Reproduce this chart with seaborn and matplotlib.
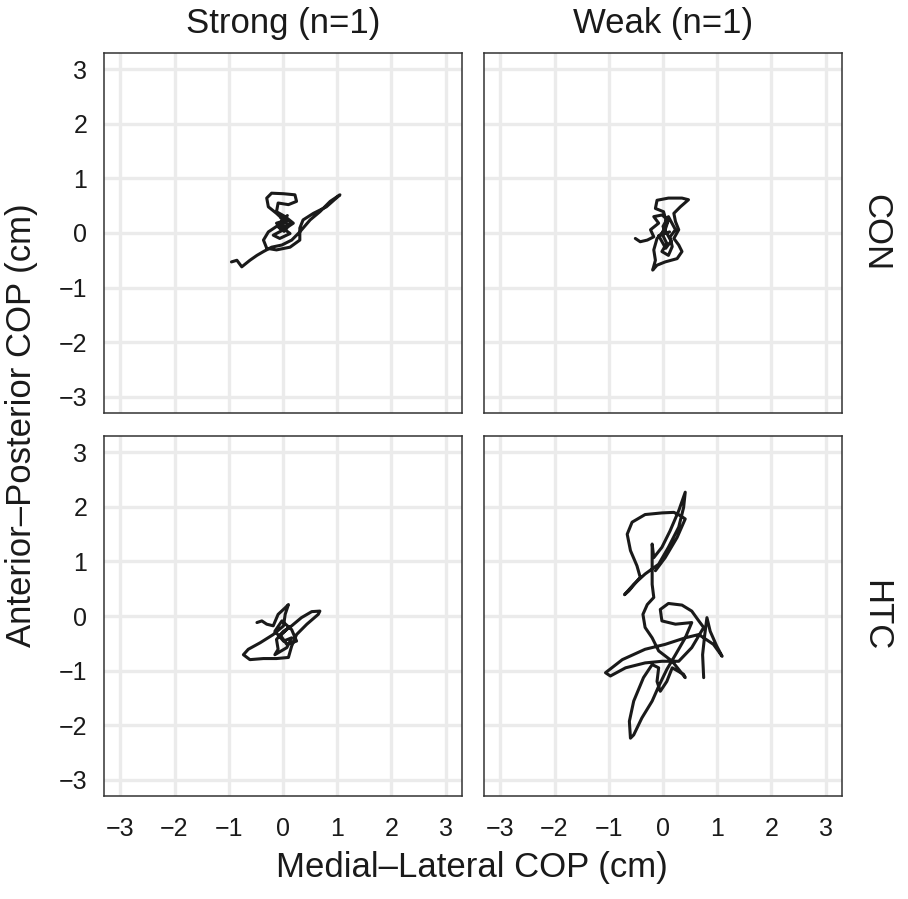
import numpy as np
import pandas as pd
import seaborn as sns
import matplotlib.pyplot as plt

# COP traces (cm)
strong_con_x = [-0.95, -0.85, -0.76, -0.61, -0.48, -0.36, -0.21, -0.02, 0.16, 0.31, 0.50, 0.68, 0.87, 1.05,
                0.80, 0.56, 0.37, 0.31, 0.31, 0.13, -0.12, -0.30, -0.36, -0.27, -0.12, 0.01, -0.12, -0.27,
                -0.30, -0.21, 0.01, 0.22, 0.25, 0.10, -0.09, -0.12, 0.04, 0.19, 0.01, -0.18, -0.06, 0.13,
                -0.12, 0.07, -0.06, 0.10, -0.04, 0.15, 0.02, -0.10, 0.08]
strong_con_y = [-0.53, -0.50, -0.62, -0.50, -0.41, -0.34, -0.26, -0.22, -0.13, 0.02, 0.24, 0.39, 0.58, 0.70,
                0.48, 0.36, 0.24, 0.09, -0.13, -0.26, -0.31, -0.28, -0.13, 0.02, 0.12, 0.24, 0.36, 0.48,
                0.64, 0.73, 0.72, 0.70, 0.58, 0.52, 0.55, 0.39, 0.30, 0.18, 0.06, -0.04, -0.10, -0.01,
                0.18, 0.24, 0.09, 0.14, 0.28, 0.20, 0.03, 0.12, 0.32]

weak_con_x = [-0.51, -0.42, -0.29, -0.17, -0.23, -0.08, -0.17, -0.02, 0.10, 0.04, -0.11, -0.17, -0.14, -0.19,
              -0.11, 0.04, 0.26, 0.35, 0.29, 0.20, 0.29, 0.23, 0.20, 0.32, 0.47, 0.35, 0.10, -0.11, -0.14,
              0.01, 0.07, -0.02, 0.07, -0.02, 0.10, 0.17, 0.13, 0.23, 0.10, 0.00, 0.15, 0.05, -0.08, 0.12]
weak_con_y = [-0.10, -0.16, -0.13, -0.07, 0.06, 0.18, 0.30, 0.33, 0.24, 0.06, -0.10, -0.31, -0.50, -0.68,
              -0.59, -0.53, -0.47, -0.34, -0.22, -0.10, 0.06, 0.21, 0.36, 0.48, 0.61, 0.64, 0.64, 0.60, 0.45,
              0.39, 0.18, -0.01, -0.19, -0.34, -0.41, -0.25, -0.07, 0.06, 0.30, 0.12, -0.15, -0.28, -0.05, 0.02]

strong_htc_x = [-0.48, -0.39, -0.30, -0.18, -0.09, 0.04, 0.10, 0.04, 0.01, -0.18, -0.42, -0.64, -0.73, -0.61,
                -0.36, -0.12, 0.10, 0.16, 0.25, 0.44, 0.65, 0.68, 0.53, 0.34, 0.16, 0.01, -0.12, -0.09,
                -0.15, 0.07, 0.16, 0.01, -0.15, -0.02, 0.16, 0.25, 0.07, -0.05, 0.12, -0.08]
strong_htc_y = [-0.12, -0.09, -0.15, -0.18, 0.03, 0.15, 0.21, 0.03, -0.18, -0.34, -0.49, -0.61, -0.71, -0.80,
                -0.78, -0.78, -0.76, -0.55, -0.34, -0.15, 0.03, 0.09, 0.08, -0.03, -0.18, -0.28, -0.43, -0.61,
                -0.71, -0.58, -0.40, -0.46, -0.28, -0.09, -0.25, -0.46, -0.52, -0.35, -0.20, -0.38]

weak_htc_x = [0.75, 0.73, 0.77, 0.81, 0.87, 0.99, 1.09, 0.93, 0.66, 0.41, 0.04, -0.33, -0.75, -1.06, -0.97,
              -0.69, -0.33, -0.02, 0.29, 0.53, 0.75, 0.66, 0.53, 0.35, 0.10, -0.05, -0.02, 0.23, 0.53, 0.41,
              0.23, 0.07, -0.08, -0.20, -0.39, -0.54, -0.60, -0.62, -0.54, -0.36, -0.20, -0.08, -0.11, -0.05,
              0.07, 0.17, 0.38, 0.41, 0.17, -0.08, -0.20, -0.33, -0.37, -0.29, -0.17, -0.20, -0.20, -0.20,
              -0.17, -0.02, 0.13, 0.29, 0.41, 0.38, 0.29, 0.10, -0.08, -0.33, -0.54, -0.71, -0.63, -0.42,
              -0.48, -0.60, -0.66, -0.57, -0.33, -0.02, 0.20, 0.32, 0.41, 0.26, 0.04, -0.14]
weak_htc_y = [-1.13, -0.71, -0.34, -0.03, -0.28, -0.55, -0.74, -0.52, -0.34, -0.40, -0.52, -0.61, -0.80, -1.04,
              -1.10, -0.95, -0.86, -0.83, -0.83, -0.58, -0.21, -0.09, 0.09, 0.20, 0.23, 0.12, -0.09, -0.15,
              -0.12, -0.40, -0.71, -0.98, -1.29, -1.56, -1.87, -2.18, -2.24, -1.93, -1.56, -1.13, -0.89, -0.95,
              -1.20, -1.38, -1.20, -0.95, -1.07, -1.13, -0.83, -0.64, -0.40, -0.21, 0.03, 0.21, 0.34, 0.58,
              0.89, 1.32, 1.07, 1.26, 1.56, 1.93, 2.27, 1.99, 1.63, 1.26, 0.95, 0.77, 0.58, 0.39, 0.46, 0.71,
              0.92, 1.20, 1.50, 1.72, 1.86, 1.89, 1.90, 1.84, 1.78, 1.44, 1.07, 0.83]

sides = ["Strong (n=1)", "Weak (n=1)"]
groups = ["CON", "HTC"]
ticks = [-3, -2, -1, 0, 1, 2, 3]

traces = {
    (sides[0], groups[0]): (strong_con_x, strong_con_y),
    (sides[1], groups[0]): (weak_con_x, weak_con_y),
    (sides[0], groups[1]): (strong_htc_x, strong_htc_y),
    (sides[1], groups[1]): (weak_htc_x, weak_htc_y),
}
frames = []
for (side, grp), (xs, ys) in traces.items():
    frames.append(pd.DataFrame({"ml": xs, "ap": ys, "side": side, "group": grp}))
df = pd.concat(frames, ignore_index=True)

sns.set_theme(style="white")
plt.rcParams["font.family"] = ["Liberation Sans", "DejaVu Sans"]

g = sns.FacetGrid(df, row="group", col="side", row_order=groups, col_order=sides,
                  sharex=True, sharey=True, margin_titles=True, despine=False)
g.map_dataframe(sns.lineplot, x="ml", y="ap", sort=False, estimator=None,
                color="#1a1a1a", linewidth=2.2, solid_joinstyle="round", solid_capstyle="round")
g.figure.set_size_inches(9.08, 8.99)

g.set(xlim=(-3.3, 3.3), ylim=(-3.3, 3.3), xticks=ticks, yticks=ticks)
g.set_titles(row_template="", col_template="")
g.set_axis_labels("", "")

lefts = [104 / 908, 484 / 908]
bottoms = [1 - 413 / 899, 1 - 796 / 899]
w = 358 / 908
h = 360 / 899
for i in range(2):
    for j in range(2):
        ax = g.axes[i, j]
        ax.set_position([lefts[j], bottoms[i], w, h])
        ax.grid(True, color="#ebebeb", linewidth=2.4)
        ax.set_axisbelow(True)
        for s in ax.spines.values():
            s.set_color("#333333")
            s.set_linewidth(1.1)
        ax.tick_params(axis="both", which="both", direction="out", length=7, width=1.6,
                       color="#333333", labelsize=18, labelcolor="#1a1a1a", pad=5)
        ax.tick_params(axis="x", pad=8)
        if j == 1:
            ax.tick_params(axis="y", length=0)
        if i == 0:
            ax.tick_params(axis="x", length=0)

for ax in g.axes.flat:
    for t in list(ax.texts):
        t.remove()

fig = g.figure
for j, side in enumerate(sides):
    fig.text(lefts[j] + w / 2, 1 - 24 / 899, side, ha="center", va="center", fontsize=25, color="#1a1a1a")
for i, grp in enumerate(groups):
    fig.text(876 / 908, bottoms[i] + h / 2, grp, ha="center", va="center", rotation=-90,
             fontsize=25, color="#1a1a1a")

fig.text(472 / 908, 1 - 868 / 899, "Medial\u2013Lateral COP (cm)", ha="center", va="center",
         fontsize=25, color="#1a1a1a")
fig.text(22 / 908, 1 - 425 / 899, "Anterior\u2013Posterior COP (cm)", ha="center", va="center",
         rotation=90, fontsize=25, color="#1a1a1a")

fig.savefig("out.png", dpi=100)
